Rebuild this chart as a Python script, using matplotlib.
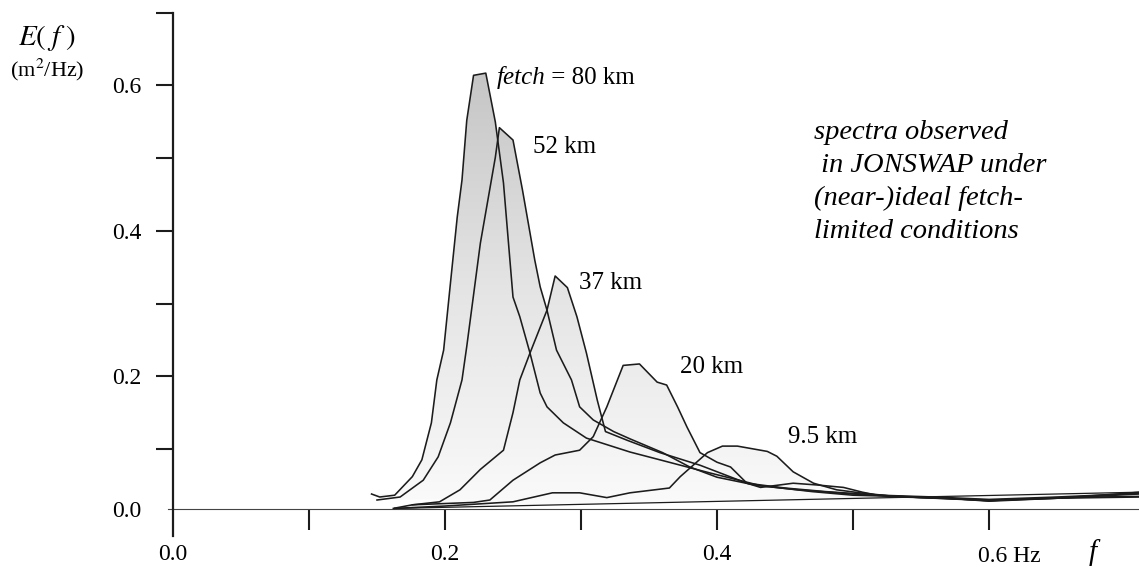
import numpy as np
import matplotlib
matplotlib.use('Agg')
import matplotlib.pyplot as plt
from matplotlib.colors import LinearSegmentedColormap

plt.rcParams['font.family'] = ['Liberation Serif', 'DejaVu Serif']
plt.rcParams['mathtext.fontset'] = 'stix'

# ---------------- data (frequency in Hz, energy density in m^2/Hz) ----------------
f_80 = [0.146, 0.152, 0.163, 0.176, 0.183, 0.190, 0.194, 0.199, 0.204, 0.209, 0.2125, 0.216,
        0.221, 0.230, 0.237, 0.243, 0.250, 0.255, 0.2625, 0.270, 0.275, 0.287, 0.304, 0.336,
        0.358, 0.395, 0.432, 0.47, 0.50, 0.55, 0.60, 0.65, 0.71]
E_80 = [0.025, 0.020, 0.023, 0.054, 0.082, 0.136, 0.195, 0.236, 0.328, 0.419, 0.470, 0.552,
        0.614, 0.617, 0.550, 0.466, 0.309, 0.282, 0.232, 0.177, 0.158, 0.136, 0.115, 0.095,
        0.082, 0.060, 0.039, 0.029, 0.023, 0.020, 0.014, 0.019, 0.021]

f_52 = [0.150, 0.167, 0.184, 0.195, 0.204, 0.2125, 0.216, 0.226, 0.237, 0.240, 0.250, 0.257,
        0.266, 0.270, 0.275, 0.282, 0.293, 0.299, 0.309, 0.324, 0.336, 0.36, 0.38, 0.40, 0.43,
        0.46, 0.50, 0.55, 0.60, 0.65, 0.71]
E_52 = [0.015, 0.020, 0.048, 0.087, 0.136, 0.195, 0.241, 0.383, 0.501, 0.542, 0.525, 0.456,
        0.360, 0.323, 0.291, 0.236, 0.195, 0.158, 0.140, 0.124, 0.114, 0.094, 0.070, 0.053, 0.039,
        0.032, 0.025, 0.019, 0.015, 0.018, 0.025]

f_37 = [0.162, 0.176, 0.196, 0.211, 0.226, 0.243, 0.250, 0.255, 0.2625, 0.275, 0.281, 0.290,
        0.297, 0.304, 0.312, 0.318, 0.334, 0.358, 0.3875, 0.422, 0.45, 0.48, 0.52, 0.56, 0.60,
        0.65, 0.71]
E_37 = [0.001, 0.007, 0.012, 0.032, 0.066, 0.098, 0.150, 0.195, 0.232, 0.291, 0.338, 0.322,
        0.282, 0.232, 0.167, 0.124, 0.112, 0.094, 0.073, 0.043, 0.035, 0.029, 0.023, 0.020, 0.016,
        0.020, 0.026]

f_20 = [0.176, 0.221, 0.233, 0.250, 0.270, 0.281, 0.299, 0.309, 0.319, 0.331, 0.343, 0.356,
        0.363, 0.371, 0.378, 0.3875, 0.400, 0.410, 0.422, 0.432, 0.456, 0.474, 0.493, 0.507,
        0.518, 0.55, 0.60, 0.65, 0.71]
E_20 = [0.007, 0.011, 0.015, 0.048, 0.077, 0.090, 0.098, 0.117, 0.158, 0.215, 0.217, 0.192,
        0.188, 0.158, 0.130, 0.094, 0.078, 0.070, 0.043, 0.036, 0.043, 0.040, 0.036, 0.028,
        0.023, 0.019, 0.014, 0.018, 0.020]

f_95 = [0.163, 0.20, 0.25, 0.279, 0.299, 0.319, 0.336, 0.365, 0.373, 0.393, 0.404, 0.415,
        0.437, 0.444, 0.456, 0.471, 0.488, 0.505, 0.535, 0.57, 0.60, 0.65, 0.70, 0.71]
E_95 = [0.001, 0.005, 0.012, 0.027, 0.027, 0.019, 0.027, 0.035, 0.054, 0.094, 0.104, 0.104,
        0.096, 0.088, 0.062, 0.043, 0.032, 0.027, 0.020, 0.018, 0.013, 0.018, 0.026, 0.028]

spectra = [(f_80, E_80), (f_52, E_52), (f_37, E_37), (f_20, E_20), (f_95, E_95)]

x_ticks = [0.0, 0.1, 0.2, 0.3, 0.4, 0.5, 0.6]
x_ticklabels = ['0.0', '', '0.2', '', '0.4', '', '']
y_ticks = [0.0, 0.1, 0.2, 0.3, 0.4, 0.5, 0.6, 0.7]
y_ticklabels = ['0.0', '', '0.2', '', '0.4', '', '0.6', '']


# the hand-drawn ordinate has a shorter first interval (0.0-0.1) than the others
def fwd(y):
    y = np.asarray(y, dtype=float)
    return np.where(y <= 0.1, y * 6.0, 0.6 + (y - 0.1) * 7.27)


def inv(v):
    v = np.asarray(v, dtype=float)
    return np.where(v <= 0.6, v / 6.0, 0.1 + (v - 0.6) / 7.27)


# ---------------- figure ----------------
fig = plt.figure(figsize=(11.39, 5.71), dpi=100)
ax = fig.add_axes([0, 0, 1, 1])
ax.set_yscale('function', functions=(fwd, inv))
XLIM = (-0.1272, 0.7103)
YLIM = (-0.1033, 0.7176)

ink = '#1c1c1c'
cmap = LinearSegmentedColormap.from_list('shade', ['#fbfbfb', '#e4e4e4', '#c2c2c2'])
grad = np.linspace(0, 1, 256).reshape(-1, 1)

for fx, ey in spectra:
    poly = ax.fill(fx, ey, facecolor='none', edgecolor='none', zorder=1)[0]
    im = ax.imshow(grad, extent=(min(fx), max(fx), 0, 0.65), origin='lower', cmap=cmap,
                   aspect='auto', zorder=1, interpolation='bilinear')
    im.set_clip_path(poly)

for fx, ey in spectra:
    ax.plot(fx, ey, color=ink, lw=1.15, zorder=3)

# closing chord of the smallest spectrum
ax.plot([f_95[0], f_95[-1]], [E_95[0], E_95[-1]], color=ink, lw=0.9, zorder=3)

ax.set_xlim(*XLIM)
ax.set_ylim(*YLIM)
ax.set_aspect('auto')

# axes styling
for s in ['top', 'right']:
    ax.spines[s].set_visible(False)
ax.spines['left'].set_position(('data', 0))
ax.spines['left'].set_bounds(-0.045, 0.7)
ax.spines['left'].set_linewidth(1.6)
ax.spines['left'].set_color(ink)
ax.spines['bottom'].set_position(('data', 0))
ax.spines['bottom'].set_bounds(-0.004, XLIM[1])
ax.spines['bottom'].set_linewidth(0.8)
ax.spines['bottom'].set_color('#444444')
ax.spines['left'].set_zorder(4)

ax.set_yticks(y_ticks)
ax.set_yticklabels(y_ticklabels)
ax.yaxis.set_minor_locator(matplotlib.ticker.NullLocator())
ax.set_xticks(x_ticks)
ax.set_xticklabels(x_ticklabels)
ax.tick_params(axis='y', direction='out', length=12, width=1.5, pad=11, labelsize=17, color=ink)
ax.tick_params(axis='x', direction='out', length=15, width=1.5, pad=10, labelsize=17, color=ink)
ax.yaxis.get_major_ticks()[0].tick1line.set_visible(False)
ax.xaxis.get_major_ticks()[0].tick1line.set_visible(False)

ax.annotate('0.6 Hz', xy=(0.6, 0), xytext=(-8, -34.5), textcoords='offset points',
            ha='left', va='center', fontsize=17)
ax.text(0.676, -0.0717, 'f', style='italic', ha='center', va='center', fontsize=21)

fig.text(47 / 1139, 1 - 38 / 571, r'$E(\;f\;)$', fontsize=21, ha='center', va='center')
fig.text(47 / 1139, 1 - 70 / 571, r'(m$^2$/Hz)', fontsize=16, ha='center', va='center')

# spectrum labels
t1 = ax.text(0.238, 0.602, 'fetch', style='italic', fontsize=18, ha='left', va='baseline')
ax.annotate(' = 80 km', xy=(1, 0), xycoords=t1, ha='left', va='bottom', fontsize=18)
ax.text(0.265, 0.515, '52 km', fontsize=18, ha='left', va='center')
ax.text(0.2985, 0.328, '37 km', fontsize=18, ha='left', va='center')
ax.text(0.373, 0.213, '20 km', fontsize=18, ha='left', va='center')
ax.text(0.452, 0.1165, '9.5 km', fontsize=18, ha='left', va='center')

ax.text(0.4713, 0.5526, 'spectra observed\n in JONSWAP under\n(near-)ideal fetch-\nlimited conditions',
        style='italic', fontsize=20.5, ha='left', va='top', linespacing=1.41)

fig.savefig('out.png', dpi=100)
